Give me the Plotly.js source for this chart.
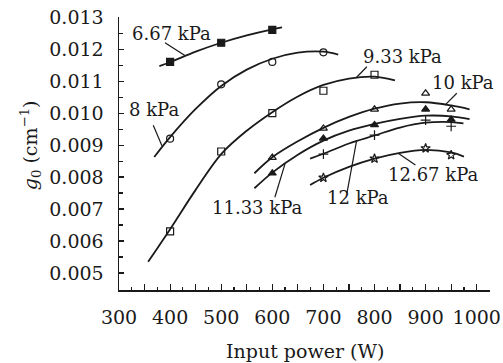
<!DOCTYPE html>
<html>
<head>
<meta charset="utf-8">
<script src="https://cdn.plot.ly/plotly-3.0.1.min.js"></script>
<style>html,body{margin:0;padding:0;background:#fff;}#chart{width:503px;height:363px;}</style>
</head>
<body>
<div id="chart"></div>
<script>
// Measured points (input power in W, g0 in cm^-1)
const series = ["6.67 kPa", "8 kPa", "9.33 kPa", "10 kPa", "11.33 kPa", "12 kPa", "12.67 kPa"];

const p667_x = [400, 500, 600];
const p667_y = [0.0116, 0.0122, 0.0126];
const p8_x = [400, 500, 600, 700];
const p8_y = [0.0092, 0.0109, 0.0116, 0.0119];
const p933_x = [400, 500, 600, 700, 800];
const p933_y = [0.0063, 0.0088, 0.0100, 0.0107, 0.0112];
const p10_x = [600, 700, 800, 900, 950];
const p10_y = [0.00861, 0.00952, 0.01012, 0.01062, 0.01012];
const p1133_x = [600, 700, 800, 900, 950];
const p1133_y = [0.00812, 0.00921, 0.00963, 0.01012, 0.00980];
const p12_x = [700, 800, 900, 950];
const p12_y = [0.00872, 0.00931, 0.00978, 0.00959];
const p1267_x = [700, 800, 900, 950];
const p1267_y = [0.00798, 0.00858, 0.00890, 0.00869];

// Fitted curves
const c667_x = [379, 400, 450, 500, 550, 600, 619];
const c667_y = [0.01147, 0.01159, 0.01192, 0.01220, 0.01243, 0.01262, 0.01268];
const c8_x = [369, 400, 450, 500, 550, 600, 650, 700, 729];
const c8_y = [0.00863, 0.00925, 0.01013, 0.01085, 0.01136, 0.01170, 0.01189, 0.01192, 0.01183];
const c933_x = [357, 400, 450, 500, 550, 600, 650, 700, 750, 800, 840];
const c933_y = [0.00535, 0.00637, 0.00760, 0.00872, 0.00945, 0.01003, 0.01052, 0.01088, 0.01108, 0.01114, 0.01102];
const c10_x = [565, 600, 650, 700, 750, 800, 850, 900, 950, 986];
const c10_y = [0.00812, 0.00862, 0.00912, 0.00954, 0.00988, 0.01014, 0.01030, 0.01034, 0.01024, 0.01012];
const c1133_x = [565, 600, 650, 700, 750, 800, 850, 900, 950, 986];
const c1133_y = [0.00765, 0.00814, 0.00870, 0.00914, 0.00945, 0.00966, 0.00982, 0.00992, 0.00990, 0.00981];
const c12_x = [674, 700, 750, 800, 850, 900, 950, 974];
const c12_y = [0.00858, 0.00873, 0.00905, 0.00930, 0.00955, 0.00970, 0.00972, 0.00968];
const c1267_x = [674, 700, 750, 800, 850, 900, 950, 975];
const c1267_y = [0.00775, 0.00798, 0.00832, 0.00858, 0.00876, 0.00885, 0.00877, 0.00864];

const xTickVals = [300, 400, 500, 600, 700, 800, 900, 1000];
const xTickText = ["300", "400", "500", "600", "700", "800", "900", "1000"];

const FONT = "DejaVu Serif, Liberation Serif, serif";
const INK = "#1a1a1a";

const pts = [
  [p667_x, p667_y, "square"],
  [p8_x, p8_y, "circle-open"],
  [p933_x, p933_y, "square-open"],
  [p10_x, p10_y, "triangle-up-open"],
  [p1133_x, p1133_y, "triangle-up"],
  [p12_x, p12_y, "cross-thin-open"],
  [p1267_x, p1267_y, "star-open"]
];
const curves = [
  [c667_x, c667_y], [c8_x, c8_y], [c933_x, c933_y], [c10_x, c10_y],
  [c1133_x, c1133_y], [c12_x, c12_y], [c1267_x, c1267_y]
];

const traces = [];
curves.forEach((c, i) => {
  traces.push({x: c[0], y: c[1], mode: "lines", line: {color: INK, width: 1.8, shape: "spline", smoothing: 1}, name: series[i], hoverinfo: "skip"});
});
pts.forEach((p, i) => {
  traces.push({x: p[0], y: p[1], mode: "markers", name: series[i],
    marker: {symbol: p[2], size: 7, color: INK, line: {color: INK, width: 1.2}}});
});
// empty trace that makes the overlay axis (taller ticks at the odd 50s) exist
traces.push({x: [], y: [], xaxis: "x2", mode: "markers", hoverinfo: "skip"});

// label positions (data coords) and leader lines
const labels = [
  {t: "6.67 kPa", x: 402, y: 0.01249, lx: [390, 429], ly: [0.01220, 0.01180]},
  {t: "8 kPa", x: 369, y: 0.01010, lx: [367, 384], ly: [0.00962, 0.00898]},
  {t: "9.33 kPa", x: 854, y: 0.01176, lx: [785, 765], ly: [0.01145, 0.01112]},
  {t: "10 kPa", x: 974, y: 0.01095, lx: [961, 938], ly: [0.01062, 0.01025]},
  {t: "11.33 kPa", x: 570, y: 0.00705, lx: [605, 625], ly: [0.00737, 0.00842]},
  {t: "12 kPa", x: 767, y: 0.00736, lx: [746, 765], ly: [0.00749, 0.00914]},
  {t: "12.67 kPa", x: 914, y: 0.00809, lx: [880, 847], ly: [0.00838, 0.00874]}
];

const annotations = labels.map(l => ({
  text: l.t, x: l.x, y: l.y, xref: "x", yref: "y", showarrow: false,
  xanchor: "center", yanchor: "middle", font: {family: FONT, size: 18, color: INK}
}));
annotations.push({
  text: "<i>g</i><sub>0</sub> (cm<sup>−1</sup>)", xref: "paper", yref: "paper",
  x: -0.24, y: 0.53, textangle: -90, showarrow: false, xanchor: "center", yanchor: "middle",
  font: {family: FONT, size: 19, color: INK}
});
annotations.push({
  text: "Input power (W)", xref: "paper", yref: "paper",
  x: 0.5, y: -0.225, showarrow: false, xanchor: "center", yanchor: "middle",
  font: {family: FONT, size: 19, color: INK}
});

const shapes = labels.map(l => ({
  type: "line", xref: "x", yref: "y", x0: l.lx[0], x1: l.lx[1], y0: l.ly[0], y1: l.ly[1],
  line: {color: INK, width: 1.2}
}));

const layout = {
  width: 503, height: 363,
  margin: {l: 119, r: 13, t: 17, b: 73},
  paper_bgcolor: "#fff", plot_bgcolor: "#fff",
  showlegend: false,
  font: {family: FONT, size: 19, color: INK},
  xaxis: {
    range: [300, 1026], tickmode: "array", tickvals: xTickVals, ticktext: xTickText,
    ticks: "inside", ticklen: 6, tickwidth: 1.2, tickcolor: INK,
    minor: {dtick: 25, tick0: 300, ticks: "inside", ticklen: 3, tickwidth: 1.2, tickcolor: INK},
    showline: true, linecolor: INK, linewidth: 1.5, showgrid: false, zeroline: false,
    tickfont: {family: FONT, size: 19, color: INK}, ticklabelstandoff: 10
  },
  xaxis2: {
    overlaying: "x", matches: "x", side: "bottom", anchor: "y",
    range: [300, 1026], tick0: 350, dtick: 100,
    ticks: "inside", ticklen: 6, tickwidth: 1.2, tickcolor: INK,
    showticklabels: false, showline: false, showgrid: false, zeroline: false
  },
  yaxis: {
    range: [0.00447, 0.013005], tick0: 0.005, dtick: 0.001, tickformat: ".3f",
    ticks: "inside", ticklen: 5, tickwidth: 1.2, tickcolor: INK,
    minor: {dtick: 0.0005, tick0: 0.005, ticks: "inside", ticklen: 4, tickwidth: 1.2, tickcolor: INK},
    showline: true, linecolor: INK, linewidth: 1.5, showgrid: false, zeroline: false,
    tickfont: {family: FONT, size: 19, color: INK}, ticklabelstandoff: 10
  },
  annotations: annotations,
  shapes: shapes
};

Plotly.newPlot("chart", traces, layout, {staticPlot: true, displayModeBar: false});
</script>
</body>
</html>
